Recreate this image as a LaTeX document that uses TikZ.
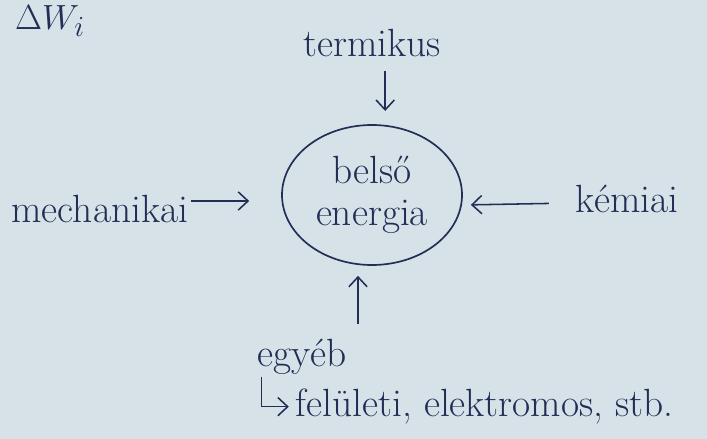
\documentclass[tikz,border=0pt]{standalone}
\usepackage{tikz}
\usetikzlibrary{arrows.meta, positioning, calc, shapes.geometric}
\usepackage{xcolor}
\definecolor{inkblue}{RGB}{35, 45, 85}
\definecolor{paper}{RGB}{214, 226, 232}

\begin{document}
\begin{tikzpicture}[
  txt/.style={text=inkblue, font=\fontsize{28}{30}\selectfont, inner sep=2pt},
  blob/.style={ellipse, draw=inkblue, line width=1.2pt, inner sep=0pt,
               minimum width=4.5cm, minimum height=3.5cm, align=center, txt},
  arr/.style={-{Straight Barb[length=7pt, width=13pt]}, line width=1.1pt, color=inkblue}
]
\fill[paper] (-9.3,-6.1) rectangle (8.375,4.875);
\useasboundingbox (-9.3,-6.1) rectangle (8.375,4.875);

\node[blob] (belso) at (0,0) {belső\\energia};
\node[txt, above=1.6cm of belso] (termikus) {termikus};
\node[txt, left=2.25cm of belso, yshift=-0.35cm] (mechanikai) {mechanikai};
\node[txt, right=2.75cm of belso, yshift=-0.1cm] (kemiai) {kémiai};
\node[txt, below=1.75cm of belso, xshift=-1.75cm] (egyeb) {egyéb};
\node[txt, anchor=west] (tobbi) at ([xshift=0.95cm, yshift=-1.25cm]egyeb.west)
      {felületi, elektromos, stb.};
\node[txt] (dw) at (-8.05, 4.35) {$\Delta W_i$};

\draw[arr, shorten <=0.28cm, shorten >=0.33cm] ([xshift=0.33cm]termikus.south)
      -- ([xshift=0.33cm]termikus.south |- belso.north);
\draw[arr, shorten >=0.8cm] ([yshift=0.2cm]mechanikai.east)
      -- ([yshift=0.2cm]mechanikai.east -| belso.west);
\draw[arr, shorten <=0.6cm, shorten >=0.2cm] ([yshift=-0.1cm]kemiai.west)
      -- ([yshift=-0.25cm]belso.east);
\draw[arr, shorten <=0.3cm, shorten >=0.25cm] ([xshift=1.4cm]egyeb.north)
      -- ([xshift=1.4cm]egyeb.north |- belso.south);
\draw[arr] ([xshift=0.17cm]egyeb.south west) |- ([xshift=-0.1cm]tobbi.west);
\end{tikzpicture}
\end{document}
